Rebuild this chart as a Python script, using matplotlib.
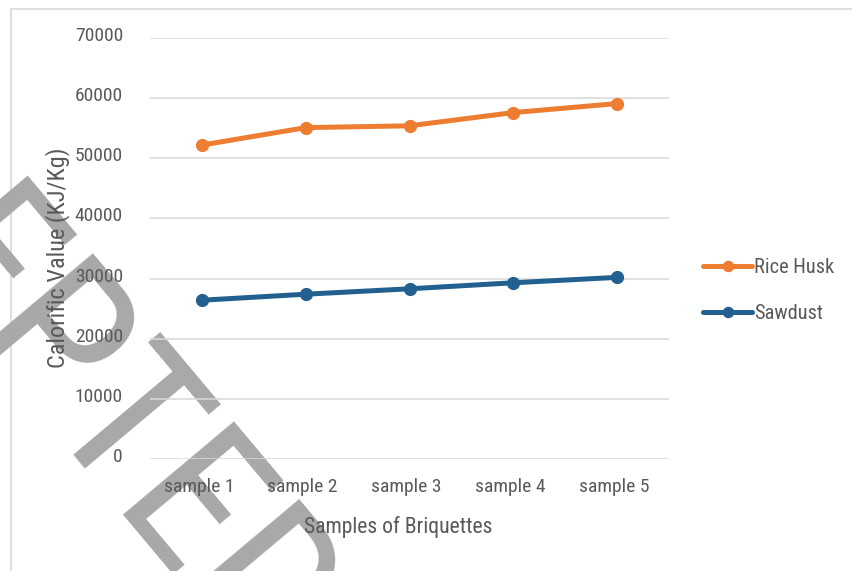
import numpy as np
import matplotlib
matplotlib.use("Agg")
import matplotlib.pyplot as plt
from matplotlib.patches import Rectangle
from matplotlib.transforms import ScaledTranslation

# Calorific value of briquette samples (kJ/kg)
samples = ["sample 1", "sample 2", "sample 3", "sample 4", "sample 5"]
rice_husk = [52200, 55100, 55400, 57600, 59100]
sawdust = [26400, 27400, 28300, 29300, 30200]
y_ticks = [0, 10000, 20000, 30000, 40000, 50000, 60000, 70000]

W, H, DPI = 852, 571, 100
FONT = ["Roboto Condensed", "DejaVu Sans"]
TXT = "#595959"
ORANGE = "#ED7D31"
BLUE = "#22608F"

plt.rcParams["font.family"] = FONT

fig = plt.figure(figsize=(W / DPI, H / DPI), dpi=DPI)
fig.patch.set_facecolor("white")

# chart-area border
fig.patches.append(Rectangle((11 / W, -0.05), 1.2, 1 - 9 / H + 0.05,
                             transform=fig.transFigure, fill=False,
                             edgecolor="#d9d9d9", linewidth=1.2, zorder=-2))

ax = fig.add_axes([150 / W, 1 - 459 / H, 519 / W, 421 / H])
ax.set_facecolor("none")

x = range(len(samples))
ax.plot(x, rice_husk, color=ORANGE, lw=3.6, marker="o", ms=8.5,
        label="Rice Husk", solid_capstyle="round")
ax.plot(x, sawdust, color=BLUE, lw=3.6, marker="o", ms=8.5,
        label="Sawdust", solid_capstyle="round")

ax.set_xlim(-0.5, len(samples) - 0.5)
ax.set_ylim(0, 70000)
ax.set_yticks(y_ticks)
ax.set_yticklabels([str(v) for v in y_ticks])
ax.set_xticks(list(x))
ax.set_xticklabels(samples)

ax.grid(axis="y", color="#d9d9d9", linewidth=1.1)
ax.set_axisbelow(True)
for s in ax.spines.values():
    s.set_visible(False)
ax.tick_params(axis="both", length=0, labelsize=14, labelcolor=TXT)
ax.tick_params(axis="y", pad=19.5)
ax.tick_params(axis="x", pad=14)
for lab in ax.get_yticklabels():
    lab.set_transform(lab.get_transform() + ScaledTranslation(0, 4 / DPI, fig.dpi_scale_trans))
for lab in ax.get_xticklabels():
    lab.set_transform(lab.get_transform() + ScaledTranslation(-3 / DPI, 0, fig.dpi_scale_trans))

ax.set_ylabel("Calorific Value (KJ/Kg)", fontsize=17.5, color=TXT,
              va="center", ha="center")
ax.yaxis.set_label_coords(-0.179, 0.477)
ax.set_xlabel("Samples of Briquettes", fontsize=15.6, color=TXT, va="center")
ax.xaxis.set_label_coords(0.478, -0.1615)

leg = ax.legend(loc="center left", bbox_to_anchor=(703 / W, 1 - 290.5 / H),
                bbox_transform=fig.transFigure, frameon=False, fontsize=14.7,
                handlelength=2.4, handletextpad=0.12, labelspacing=1.3,
                borderpad=0, borderaxespad=0, markerscale=0.85)
for t in leg.get_texts():
    t.set_color(TXT)

# diagonal stamp behind the chart; its second "E" starts at a fixed point
stamp_word = "ACCEPTED"
stamp_kw = dict(fontsize=147, family=FONT, fontweight=400)
angle = -50.0
renderer = fig.canvas.get_renderer()
probe = fig.text(0, 0, stamp_word[:6], **stamp_kw)
lead = probe.get_window_extent(renderer).width
probe.remove()
direction = np.array([np.cos(np.radians(angle)), np.sin(np.radians(angle))])
e_start = np.array([111.0, H - 506.0])   # pixels, origin bottom-left
start = e_start - lead * direction
fig.text(start[0] / W, start[1] / H, stamp_word, rotation=angle,
         rotation_mode="anchor", ha="left", va="baseline", color="#a8a8a8",
         zorder=-1, **stamp_kw)

fig.savefig("out.png", dpi=DPI)
